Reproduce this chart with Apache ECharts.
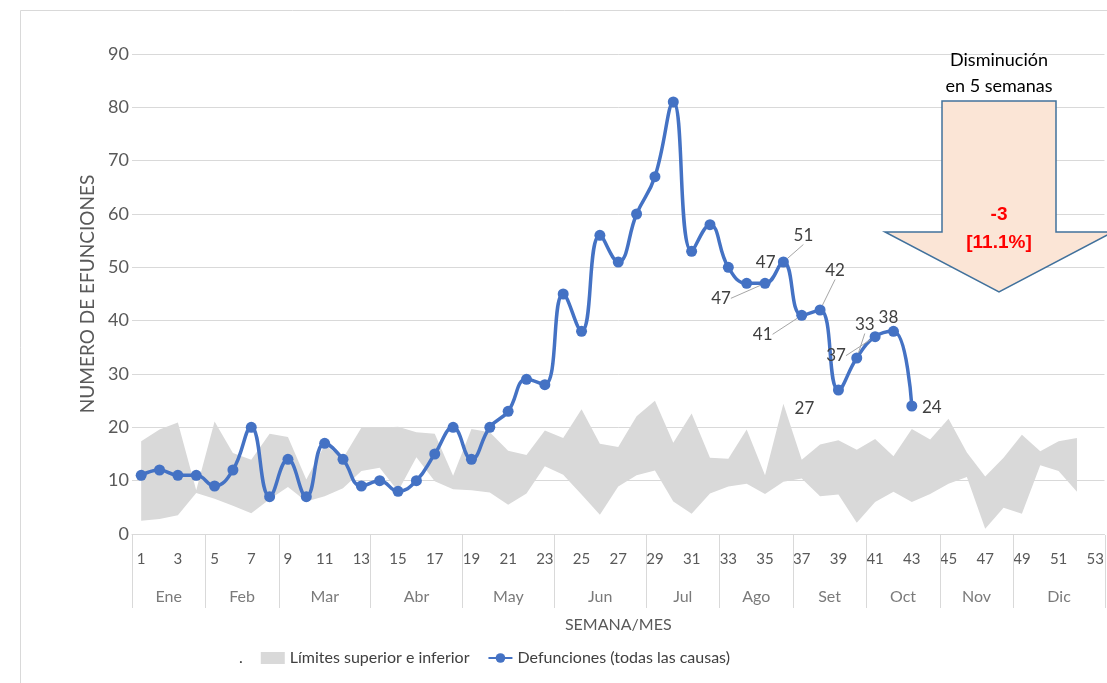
<!DOCTYPE html>
<html>
<head>
<meta charset="utf-8">
<script src="https://cdn.jsdelivr.net/npm/echarts@6/dist/echarts.min.js"></script>
<style>
html, body { margin: 0; padding: 0; background: #fff; }
#chart { width: 1107px; height: 683px; }
</style>
</head>
<body>
<div id="chart"></div>
<script>
// semanas 1..53
var weeks = [];
for (var w = 1; w <= 53; w++) weeks.push(String(w));

var monthNames = ['Ene', 'Feb', 'Mar', 'Abr', 'May', 'Jun', 'Jul', 'Ago', 'Set', 'Oct', 'Nov', 'Dic'];
var monthStarts = [0, 4, 8, 13, 18, 23, 28, 32, 36, 40, 44, 48, 53];

// defunciones por semana (1..43)
var deaths = [11, 12, 11, 11, 9, 12, 20, 7, 14, 7, 17, 14, 9, 10, 8, 10, 15, 20, 14, 20,
    23, 29, 28, 45, 38, 56, 51, 60, 67, 81, 53, 58, 50, 47, 47, 51, 41, 42, 27, 33,
    37, 38, 24];

// limites (semanas 1..52)
var upperLimit = [17.4, 19.6, 20.9, 8.2, 21.1, 15.2, 13.9, 18.8, 18.2, 10.2, 16.7, 14.2, 19.9,
    19.9, 20.1, 19.1, 18.8, 10.9, 19.7, 19.1, 15.6, 14.8, 19.4, 18.0, 23.4, 16.9,
    16.3, 22.1, 25.0, 17.1, 22.6, 14.3, 14.1, 19.6, 11.0, 24.4, 13.9, 16.8, 17.6,
    15.8, 17.8, 14.6, 19.7, 17.7, 21.6, 15.3, 10.8, 14.3, 18.6, 15.5, 17.4, 18.0];
var lowerLimit = [2.5, 2.8, 3.5, 7.7, 6.6, 5.3, 3.9, 6.5, 8.8, 6.1, 7.1, 8.6, 11.8,
    12.4, 8.0, 14.4, 9.9, 8.4, 8.2, 7.8, 5.5, 7.6, 12.7, 11.1, 7.4, 3.6,
    8.9, 11.0, 11.9, 6.1, 3.8, 7.6, 8.9, 9.4, 7.5, 9.8, 10.4, 7.1, 7.4,
    2.1, 6.0, 7.9, 6.0, 7.5, 9.4, 10.7, 1.0, 4.9, 3.8, 12.9, 11.8, 7.9];

// etiquetas de datos: indice de semana -> desplazamiento y guia
var labelPlacement = {
    33: { dx: 19, dy: -21, guide: false },
    34: { dx: -44, dy: 15, guide: true },
    35: { dx: 20, dy: -26, guide: true },
    36: { dx: -39, dy: 19, guide: true },
    37: { dx: 15, dy: -39, guide: true },
    38: { dx: -34, dy: 19, guide: false },
    39: { dx: 8, dy: -33, guide: true },
    40: { dx: -39, dy: 19, guide: true },
    41: { dx: -5, dy: -14, guide: false },
    42: { dx: 20, dy: 2, guide: false }
};

var bandWidth = upperLimit.map(function (u, i) { return +(u - lowerLimit[i]).toFixed(2); });

var deathData = deaths.map(function (v, i) {
    var p = labelPlacement[i];
    if (!p) return v;
    return {
        value: v,
        label: { show: true },
        labelLine: { show: p.guide }
    };
});

var monthLabels = monthNames.map(function (m, i) {
    return { name: m, value: [(monthStarts[i] + monthStarts[i + 1]) / 2, 0.15] };
});
var monthLines = monthStarts.map(function (s) { return { xAxis: s }; });

var FONT = 'Lato';
var chart = echarts.init(document.getElementById('chart'));
chart.setOption({
    animation: false,
    backgroundColor: '#fff',
    textStyle: { fontFamily: FONT },
    grid: [
        { left: 132, width: 973, top: 54, height: 480 },
        { left: 132, width: 973, top: 535, height: 73 }
    ],
    legend: {
        left: 204,
        top: 645,
        itemWidth: 24,
        itemHeight: 12,
        itemGap: 18,
        textStyle: { fontSize: 16, color: '#404040', fontFamily: FONT },
        data: [
            { name: '.', itemStyle: { opacity: 0 }, lineStyle: { opacity: 0 } },
            { name: 'Límites superior e inferior', icon: 'rect' },
            { name: 'Defunciones (todas las causas)' }
        ]
    },
    xAxis: [
        {
            type: 'category',
            gridIndex: 0,
            data: weeks,
            boundaryGap: true,
            axisLine: { lineStyle: { color: '#d9d9d9' } },
            axisTick: { show: false },
            axisLabel: { interval: 1, color: '#595959', fontSize: 15, margin: 18 },
            name: 'SEMANA/MES',
            nameLocation: 'middle',
            nameGap: 83,
            nameTextStyle: { color: '#595959', fontSize: 16 }
        },
        {
            type: 'value',
            gridIndex: 1,
            min: 0,
            max: 53,
            show: false
        }
    ],
    yAxis: [
        {
            type: 'value',
            gridIndex: 0,
            min: 0,
            max: 90,
            interval: 10,
            axisLine: { show: false },
            axisTick: { show: false },
            axisLabel: { color: '#595959', fontSize: 18, margin: 3 },
            splitLine: { lineStyle: { color: '#d9d9d9' } },
            name: 'NUMERO DE EFUNCIONES',
            nameLocation: 'middle',
            nameGap: 32,
            nameRotate: 90,
            nameTextStyle: { color: '#595959', fontSize: 19 }
        },
        {
            type: 'value',
            gridIndex: 1,
            min: 0,
            max: 1,
            show: false
        }
    ],
    series: [
        {
            name: '.',
            type: 'line',
            stack: 'band',
            data: lowerLimit,
            symbol: 'none',
            itemStyle: { color: 'rgba(0,0,0,0)' },
            lineStyle: { opacity: 0 },
            silent: true,
            z: 1
        },
        {
            name: 'Límites superior e inferior',
            type: 'line',
            stack: 'band',
            data: bandWidth,
            symbol: 'none',
            itemStyle: { color: '#d9d9d9' },
            lineStyle: { width: 0, opacity: 0 },
            areaStyle: { color: '#d9d9d9', opacity: 1 },
            silent: true,
            z: 1
        },
        {
            name: 'Defunciones (todas las causas)',
            type: 'line',
            data: deathData,
            smooth: 0.45,
            symbol: 'circle',
            symbolSize: 11,
            itemStyle: { color: '#4472c4' },
            lineStyle: { color: '#4472c4', width: 3.5 },
            label: {
                show: false,
                position: 'inside',
                color: '#404040',
                fontSize: 17,
                fontFamily: FONT
            },
            labelLine: {
                show: false,
                lineStyle: { color: '#a6a6a6', width: 1 }
            },
            labelLayout: function (params) {
                var p = labelPlacement[params.dataIndex];
                if (!p) return {};
                return { dx: p.dx, dy: p.dy };
            },
            z: 5
        },
        {
            type: 'scatter',
            xAxisIndex: 1,
            yAxisIndex: 1,
            data: monthLabels,
            symbolSize: 0,
            silent: true,
            label: {
                show: true,
                position: 'inside',
                formatter: '{b}',
                color: '#595959',
                fontSize: 16,
                fontFamily: FONT
            },
            markLine: {
                silent: true,
                symbol: ['none', 'none'],
                label: { show: false },
                lineStyle: { color: '#d9d9d9', type: 'solid', width: 1 },
                data: monthLines
            }
        }
    ],
    graphic: [
        {
            type: 'rect',
            shape: { x: 20.5, y: 10.5, width: 1100, height: 700 },
            style: { fill: 'none', stroke: '#d9d9d9', lineWidth: 1 },
            silent: true,
            z: 0
        },
        {
            type: 'polygon',
            shape: {
                points: [[942, 101], [1056, 101], [1056, 232], [1113, 232],
                    [999, 292], [885, 232], [942, 232]]
            },
            style: { fill: '#fbe5d6', stroke: '#41719c', lineWidth: 1.5 },
            z: 10
        },
        {
            type: 'text',
            x: 999,
            y: 60,
            style: {
                text: 'Disminución', fill: '#000', font: '18px Lato',
                textAlign: 'center', textVerticalAlign: 'middle'
            },
            z: 11
        },
        {
            type: 'text',
            x: 999,
            y: 86,
            style: {
                text: 'en 5 semanas', fill: '#000', font: '18px Lato',
                textAlign: 'center', textVerticalAlign: 'middle'
            },
            z: 11
        },
        {
            type: 'text',
            x: 999,
            y: 215,
            style: {
                text: '-3', fill: '#ff0000', font: 'bold 19px "Liberation Sans"',
                textAlign: 'center', textVerticalAlign: 'middle'
            },
            z: 11
        },
        {
            type: 'text',
            x: 999,
            y: 243,
            style: {
                text: '[11.1%]', fill: '#ff0000', font: 'bold 19px "Liberation Sans"',
                textAlign: 'center', textVerticalAlign: 'middle'
            },
            z: 11
        }
    ]
});
</script>
</body>
</html>
